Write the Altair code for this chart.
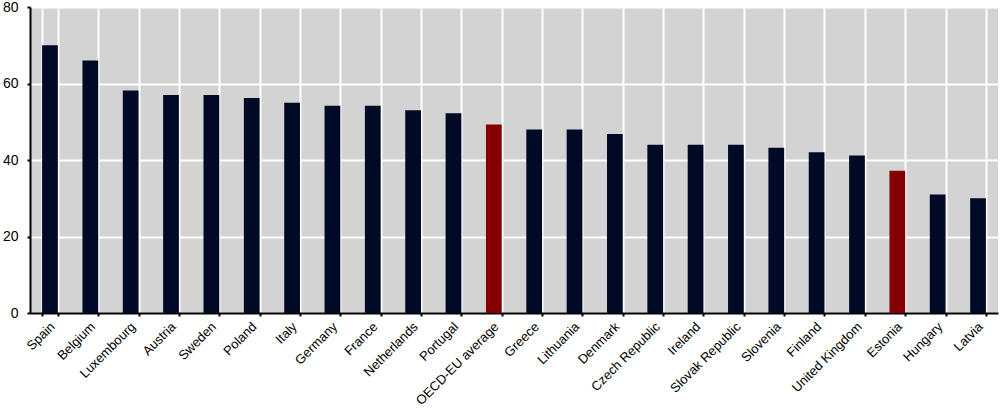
import altair as alt
import pandas as pd

countries = ["Spain", "Belgium", "Luxembourg", "Austria", "Sweden", "Poland", "Italy",
             "Germany", "France", "Netherlands", "Portugal", "OECD-EU average", "Greece",
             "Lithuania", "Denmark", "Czech Republic", "Ireland", "Slovak Republic",
             "Slovenia", "Finland", "United Kingdom", "Estonia", "Hungary", "Latvia"]
values = [70, 66, 58.2, 57, 57, 56.2, 55, 54.2, 54.2, 53, 52.2, 49.3, 48, 48, 46.8,
          44, 44, 44, 43.2, 42, 41.2, 37.2, 31, 30]
highlight = ["OECD-EU average", "Estonia"]

df = pd.DataFrame({"country": countries, "value": values})
df["grp"] = ["hi" if c in highlight else "base" for c in countries]

chart = alt.Chart(df).mark_bar(strokeWidth=0).encode(
    x=alt.X("country:N", sort=countries, title=None,
            scale=alt.Scale(paddingInner=0.61, paddingOuter=0.3),
            axis=alt.Axis(labelAngle=-45, labelFontSize=13, labelColor="black",
                          labelFont="Liberation Sans", tickBand="extent", grid=True,
                          gridColor="white", gridWidth=2, domainColor="black",
                          domainWidth=2, tickColor="black", tickWidth=2, tickSize=3,
                          labelPadding=4, labelOffset=-2)),
    y=alt.Y("value:Q", title=None,
            scale=alt.Scale(domain=[0, 80], nice=False),
            axis=alt.Axis(values=[0, 20, 40, 60, 80], labelFontSize=14,
                          labelColor="black", labelFont="Liberation Sans",
                          grid=True, gridColor="white", gridWidth=2,
                          domainColor="black", domainWidth=2, tickColor="black",
                          tickWidth=2, tickSize=3, labelPadding=9)),
    color=alt.Color("grp:N", legend=None,
                    scale=alt.Scale(domain=["base", "hi"], range=["#000A26", "#840000"])),
).properties(
    width=968, height=306,
    autosize=alt.AutoSizeParams(type="none"),
    padding={"left": 30, "top": 7, "right": 2, "bottom": 95},
    background="white",
).configure_view(fill="#D3D3D3", stroke=None)

chart.save("out.html", embed_options={"renderer": "svg", "actions": False})
